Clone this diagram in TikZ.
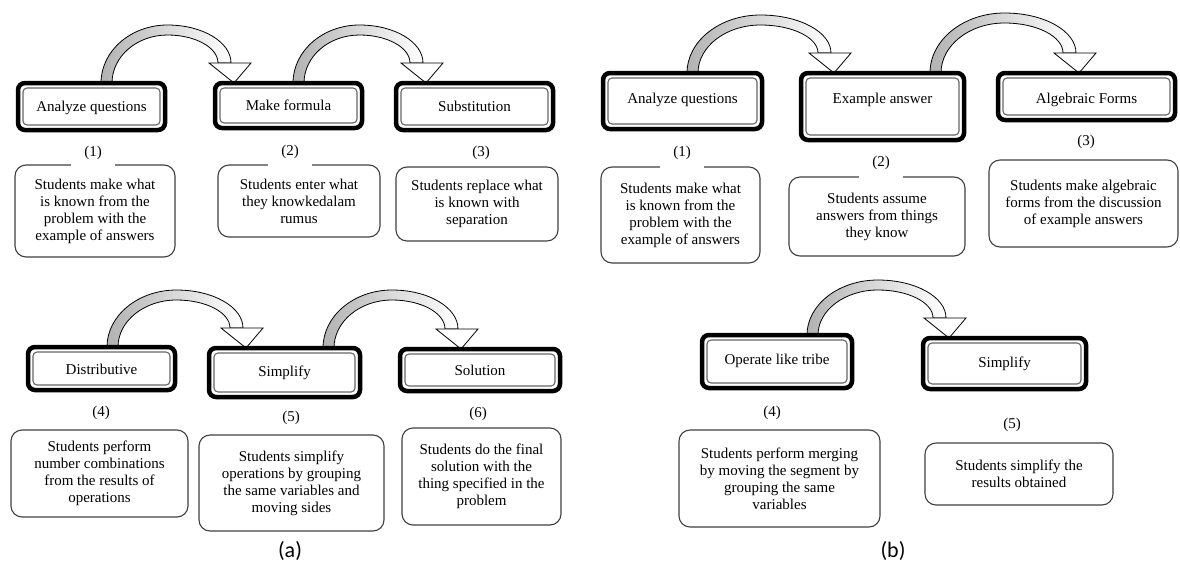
\documentclass[tikz,border=0pt]{standalone}
\usepackage{fontspec}
\setmainfont{Liberation Serif}
\newfontfamily\capfont{Carlito}
\usetikzlibrary{calc}
\pgfdeclarelayer{background}
\pgfsetlayers{background,main}
\tikzset{
  titlebox/.style={draw=black, line width=4.5pt, rounded corners=7pt, fill=white,
    inner xsep=0pt, inner ysep=0pt, outer sep=0pt, anchor=north west,
    font=\fontsize{15}{17}\selectfont},
  innerline/.style={draw=black!60, line width=1.1pt, rounded corners=4pt},
  descbox/.style={draw=black!75, line width=1.1pt, rounded corners=11pt, fill=white,
    align=center, inner sep=0pt, outer sep=0pt, anchor=north west,
    font=\fontsize{15}{17}\selectfont},
  numlabel/.style={inner sep=0pt, font=\fontsize{15}{17}\selectfont},
  gaplabel/.style={numlabel, fill=white, inner xsep=13pt, inner ysep=8pt},
  caption/.style={inner sep=0pt, font=\capfont\fontsize{22}{26}\selectfont},
  arrowbody/.style={draw=black, line width=0.8pt, left color=black!30, right color=white},
  arrowhead/.style={draw=black, line width=0.8pt, fill=white, line join=miter}
}
% title box: name, x1, y1, x2, y2, baseline y, text
\newcommand\tbox[7]{%
  \pgfmathsetmacro\zzw{#4-#2}%
  \pgfmathsetmacro\zzh{#6-#3}%
  \pgfmathsetmacro\zzd{#5-#6}%
  \node[titlebox, minimum width=\zzw pt, text height=\zzh pt, text depth=\zzd pt] (#1) at (#2,#3) {#7};
  \draw[innerline] ([shift={(5pt,5pt)}]#1.south west) rectangle ([shift={(-5pt,-5pt)}]#1.north east);
}
% description box: name, x1, y1, x2, y2, text
\newcommand\dbox[6]{%
  \pgfmathsetmacro\zzw{#4-#2}%
  \pgfmathsetmacro\zzh{#5-#3}%
  \node[descbox, minimum width=\zzw pt, minimum height=\zzh pt] (#1) at (#2,#3) {#6};
}
% bent block arrow: from node, tail offset, to node, tip offset, rise
\newcommand\bentarrow[5]{%
  \path ([xshift=#2pt]#1.north) coordinate (ba-t) ([xshift=#4pt]#3.north) coordinate (ba-h);
  \pgfpointanchor{ba-t}{center}\pgfgetlastxy{\bapx}{\bapy}%
  \pgfpointanchor{ba-h}{center}\pgfgetlastxy{\baqx}{\baqy}%
  \pgfmathsetmacro\baTx{\bapx}%
  \pgfmathsetmacro\baTy{\bapy}%
  \pgfmathsetmacro\baHx{\baqx}%
  \pgfmathsetmacro\baHy{\baqy}%
  \pgfmathsetmacro\baM{(\baTx+\baHx)/2}%
  \pgfmathsetmacro\baP{\baTy+#5}%
  \pgfmathsetmacro\baPi{\baP-10}%
  \pgfmathsetmacro\baB{\baHy+20}%
  \pgfmathsetmacro\baR{\baHx-3}%
  \pgfmathsetmacro\baL{\baHx-16}%
  \pgfmathsetmacro\baTi{\baTx+11}%
  \pgfmathsetmacro\caY{\baTy+0.552*(\baP-\baTy)}%
  \pgfmathsetmacro\cbX{\baM-0.552*(\baM-\baTx)}%
  \pgfmathsetmacro\ccX{\baM+0.552*(\baR-\baM)}%
  \pgfmathsetmacro\cdY{\baB+0.552*(\baP-\baB)}%
  \pgfmathsetmacro\ceY{\baB+0.552*(\baPi-\baB)}%
  \pgfmathsetmacro\cfX{\baM+0.552*(\baL-\baM)}%
  \pgfmathsetmacro\cgX{\baM-0.552*(\baM-\baTi)}%
  \pgfmathsetmacro\chY{\baTy+0.552*(\baPi-\baTy)}%
  \pgfmathsetmacro\hlX{\baHx-25}%
  \pgfmathsetmacro\hrX{\baHx+17}%
  \begin{pgfonlayer}{background}
  \draw[arrowbody] (\baTx pt,\baTy pt) .. controls (\baTx pt,\caY pt) and (\cbX pt,\baP pt) .. (\baM pt,\baP pt)
    .. controls (\ccX pt,\baP pt) and (\baR pt,\cdY pt) .. (\baR pt,\baB pt)
    -- (\baL pt,\baB pt)
    .. controls (\baL pt,\ceY pt) and (\cfX pt,\baPi pt) .. (\baM pt,\baPi pt)
    .. controls (\cgX pt,\baPi pt) and (\baTi pt,\chY pt) .. (\baTi pt,\baTy pt) -- cycle;
  \draw[arrowhead] (\hlX pt,\baB pt) -- (\hrX pt,\baB pt) -- (\baHx pt,\baHy pt) -- cycle;
  \end{pgfonlayer}
}
\begin{document}
\begin{tikzpicture}[x=1pt,y=-1pt]
\useasboundingbox (0,0) rectangle (1180,568);
\begin{pgfonlayer}{background}
\fill[white] (0,0) rectangle (1180,568);
\end{pgfonlayer}

% ---------- (a) top row ----------
\tbox{A1}{18}{83}{165}{130}{111}{Analyze questions}
\tbox{A2}{215}{83}{362}{128}{110}{Make formula}
\tbox{A3}{396}{83}{553}{130}{111}{Substitution}
\dbox{D1}{15}{165}{175}{257}{Students make what\\is known from the\\problem with the\\example of answers}
\dbox{D2}{218}{165}{380}{237}{Students enter what\\they knowkedalam\\rumus}
\dbox{D3}{396}{167}{558}{241}{Students replace what\\is known with\\separation}
\node[gaplabel] (n1) at (93,153) {(1)};
\node[gaplabel] (n2) at (290,152) {(2)};
\node[numlabel] (n3) at (481,153) {(3)};
\bentarrow{A1}{9.5}{A2}{-54.5}{58}
\bentarrow{A2}{4.5}{A3}{-48.5}{58}

% ---------- (a) bottom row ----------
\tbox{B1}{28}{347}{175}{390}{374}{Distributive}
\tbox{B2}{209}{348}{360}{397}{376}{Simplify}
\tbox{B3}{400}{349}{560}{391}{375}{Solution}
\dbox{D4}{11}{430}{188}{517}{Students perform\\number combinations\\from the results of\\operations}
\dbox{D5}{199}{435}{384}{531}{Students simplify\\operations by grouping\\the same variables and\\moving sides}
\dbox{D6}{402}{428}{561}{525}{Students do the final\\solution with the\\thing specified in the\\problem}
\node[numlabel] (n4) at (101,413) {(4)};
\node[numlabel] (n5) at (291,418) {(5)};
\node[numlabel] (n6) at (478,414) {(6)};
\bentarrow{B1}{5.5}{B2}{-38.5}{57}
\bentarrow{B2}{38.5}{B3}{-19}{58}

% ---------- (b) top row ----------
\tbox{C1}{603}{73}{762}{129}{103}{Analyze questions}
\tbox{C2}{801}{73}{964}{140}{103}{Example answer}
\tbox{C3}{998}{73}{1175}{120}{103}{Algebraic Forms}
\dbox{F1}{601}{167}{760}{263}{Students make what\\is known from the\\problem with the\\example of answers}
\dbox{F2}{789}{177}{965}{256}{Students assume\\answers from things\\they know}
\dbox{F3}{989}{160}{1178}{247}{Students make algebraic\\forms from the discussion\\of example answers}
\node[gaplabel] (m1) at (682,153) {(1)};
\node[gaplabel] (m2) at (881,163) {(2)};
\node[numlabel] (m3) at (1086,142) {(3)};
\bentarrow{C1}{4.5}{C2}{-48.5}{58}
\bentarrow{C2}{47.5}{C3}{-7.5}{60}

% ---------- (b) bottom row ----------
\tbox{E1}{702}{335}{852}{388}{364}{Operate like tribe}
\tbox{E2}{923}{338}{1086}{389}{367}{Simplify}
\dbox{F4}{679}{430}{880}{527}{Students perform merging\\by moving the segment by\\grouping the same\\variables}
\dbox{F5}{925}{443}{1113}{505}{Students simplify the\\results obtained}
\node[numlabel] (m4) at (772,413) {(4)};
\node[numlabel] (m5) at (1012,425) {(5)};
\bentarrow{E1}{30}{E2}{-55.5}{55}

% ---------- captions ----------
\node[caption] (capa) at (290,551) {(a)};
\node[caption] (capb) at (893,551) {(b)};
\end{tikzpicture}
\end{document}
